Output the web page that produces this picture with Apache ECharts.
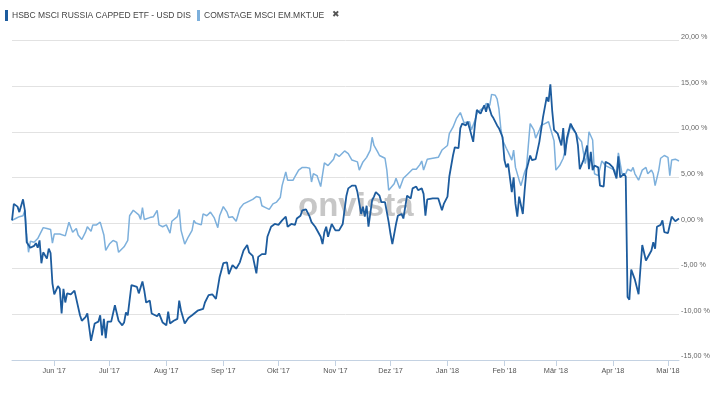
<!DOCTYPE html>
<html>
<head>
<meta charset="utf-8">
<script src="https://cdn.jsdelivr.net/npm/echarts@6/dist/echarts.min.js"></script>
<style>
html,body{margin:0;padding:0;background:#fff;}
#chart{width:720px;height:393px;}
</style>
</head>
<body>
<div id="chart"></div>
<script>
const seriesNames = ['HSBC MSCI RUSSIA CAPPED ETF - USD DIS', 'COMSTAGE MSCI EM.MKT.UE'];
const monthNames = ['Jan','Feb','Mär','Apr','Mai','Jun','Jul','Aug','Sep','Okt','Nov','Dez'];

const russiaDates = [
'2017-05-09','2017-05-10','2017-05-12','2017-05-13','2017-05-15','2017-05-16','2017-05-17','2017-05-19','2017-05-21','2017-05-22',
'2017-05-23','2017-05-24','2017-05-25','2017-05-26','2017-05-28','2017-05-29','2017-05-30','2017-05-31','2017-06-01','2017-06-03',
'2017-06-04','2017-06-05','2017-06-06','2017-06-07','2017-06-08','2017-06-10','2017-06-12','2017-06-13','2017-06-15','2017-06-16',
'2017-06-18','2017-06-19','2017-06-21','2017-06-23','2017-06-25','2017-06-26','2017-06-27','2017-06-28','2017-06-29','2017-06-30',
'2017-07-02','2017-07-04','2017-07-06','2017-07-08','2017-07-09','2017-07-10','2017-07-11','2017-07-13','2017-07-14','2017-07-16',
'2017-07-17','2017-07-19','2017-07-20','2017-07-21','2017-07-23','2017-07-24','2017-07-25','2017-07-27','2017-07-28','2017-07-30',
'2017-08-01','2017-08-02','2017-08-03','2017-08-05','2017-08-07','2017-08-08','2017-08-09','2017-08-11','2017-08-13','2017-08-15',
'2017-08-16','2017-08-18','2017-08-19','2017-08-21','2017-08-22','2017-08-24','2017-08-26','2017-08-28','2017-08-30','2017-09-01',
'2017-09-03','2017-09-04','2017-09-06','2017-09-08','2017-09-10','2017-09-12','2017-09-14','2017-09-15','2017-09-17','2017-09-19',
'2017-09-20','2017-09-22','2017-09-24','2017-09-25','2017-09-27','2017-09-29','2017-10-01','2017-10-03','2017-10-05','2017-10-06',
'2017-10-08','2017-10-10','2017-10-11','2017-10-13','2017-10-14','2017-10-15','2017-10-16','2017-10-18','2017-10-19','2017-10-21',
'2017-10-22','2017-10-24','2017-10-25','2017-10-26','2017-10-27','2017-10-28','2017-10-30','2017-10-31','2017-11-01','2017-11-03',
'2017-11-05','2017-11-07','2017-11-08','2017-11-10','2017-11-12','2017-11-13','2017-11-15','2017-11-16','2017-11-17','2017-11-18',
'2017-11-19','2017-11-21','2017-11-22','2017-11-23','2017-11-25','2017-11-26','2017-11-28','2017-11-30','2017-12-01','2017-12-02',
'2017-12-04','2017-12-05','2017-12-06','2017-12-07','2017-12-08','2017-12-09','2017-12-10','2017-12-12','2017-12-13','2017-12-15',
'2017-12-16','2017-12-18','2017-12-19','2017-12-20','2017-12-21','2017-12-24','2017-12-27','2017-12-29','2017-12-30','2018-01-01',
'2018-01-02','2018-01-04','2018-01-05','2018-01-07','2018-01-08','2018-01-09','2018-01-11','2018-01-12','2018-01-13','2018-01-15',
'2018-01-16','2018-01-17','2018-01-19','2018-01-20','2018-01-21','2018-01-22','2018-01-23','2018-01-25','2018-01-26','2018-01-28',
'2018-01-29','2018-01-31','2018-02-01','2018-02-02','2018-02-03','2018-02-05','2018-02-06','2018-02-07','2018-02-08','2018-02-09',
'2018-02-11','2018-02-12','2018-02-13','2018-02-15','2018-02-16','2018-02-18','2018-02-20','2018-02-22','2018-02-24','2018-02-25',
'2018-02-26','2018-02-27','2018-02-28','2018-03-02','2018-03-04','2018-03-05','2018-03-06','2018-03-07','2018-03-09','2018-03-10',
'2018-03-12','2018-03-13','2018-03-14','2018-03-15','2018-03-16','2018-03-17','2018-03-18','2018-03-19','2018-03-20','2018-03-21',
'2018-03-22','2018-03-24','2018-03-25','2018-03-27','2018-03-28','2018-03-30','2018-04-01','2018-04-02','2018-04-03','2018-04-04',
'2018-04-05','2018-04-07','2018-04-08','2018-04-09','2018-04-10','2018-04-11','2018-04-13','2018-04-14','2018-04-15','2018-04-16',
'2018-04-17','2018-04-19','2018-04-20','2018-04-22','2018-04-23','2018-04-24','2018-04-25','2018-04-27','2018-04-28','2018-04-29',
'2018-05-01','2018-05-03','2018-05-04','2018-05-05','2018-05-07'
];
const russiaValues = [
0.3,2.1,1.8,1.2,2.6,1.4,-2.1,-2.7,-2.5,-2.2,
-2.7,-1.9,-4.4,-3.2,-3.9,-2.8,-3.3,-6.6,-7.8,-6.9,
-7.2,-9.9,-7.2,-8.7,-7.7,-7.8,-7.4,-7.4,-10.1,-10.7,
-10.3,-9.9,-12.9,-11.0,-10.8,-10.1,-12.3,-10.5,-12.6,-10.8,
-10.8,-9.0,-10.7,-11.2,-10.9,-9.8,-10.1,-6.8,-6.6,-7.0,
-7.7,-6.4,-7.4,-8.7,-8.5,-9.9,-9.7,-10.2,-9.9,-10.9,
-11.2,-9.7,-11.0,-10.7,-10.5,-8.5,-9.6,-11.0,-10.4,-10.1,
-9.9,-9.6,-9.8,-9.4,-8.7,-7.9,-7.8,-8.3,-5.9,-4.4,
-4.3,-5.6,-4.6,-5.0,-4.3,-3.0,-2.4,-3.2,-3.6,-5.5,
-3.7,-3.4,-3.4,-1.5,-0.4,-0.1,-0.2,0.3,0.7,-0.4,
-0.1,-0.2,0.5,0.8,1.4,1.2,1.5,0.7,0.1,-0.4,
-0.4,-1.5,-2.3,-1.0,-0.4,-1.5,-0.1,0.1,-0.8,-0.8,
-0.1,3.0,3.8,4.1,4.1,3.4,1.0,1.8,0.7,1.9,
-0.4,2.5,2.9,3.4,3.0,2.3,2.3,0.1,-1.2,-2.3,
-0.1,0.8,0.7,1.0,0.5,0.7,3.0,2.7,3.8,4.0,
3.6,3.8,3.2,0.8,2.6,2.7,2.7,1.4,2.1,2.9,
5.1,7.4,8.3,8.2,10.4,10.9,10.7,11.1,10.4,8.9,
10.9,12.4,12.0,12.1,12.9,12.2,13.1,11.8,11.5,10.7,
10.4,9.4,6.9,6.1,6.5,3.4,5.0,2.1,0.7,2.9,
1.0,3.6,5.8,7.4,6.9,7.0,8.9,11.6,13.8,13.3,
15.2,12.3,10.2,9.8,8.5,10.4,7.4,9.3,10.9,10.5,
9.8,8.5,5.9,6.0,6.9,6.9,8.5,5.9,7.8,5.8,
6.3,6.1,4.1,4.0,6.7,6.5,6.1,6.0,4.9,7.3,
5.0,5.4,5.1,-8.1,-8.4,-5.1,-6.2,-6.3,-7.8,-5.0,
-2.4,-4.1,-4.0,-3.0,-2.1,-2.8,-0.4,-0.2,0.3,-1.0,
-1.1,0.7,0.7,0.2,0.5
];

const emDates = [
'2017-05-09','2017-05-11','2017-05-13','2017-05-15','2017-05-16','2017-05-17','2017-05-18','2017-05-19','2017-05-21','2017-05-23',
'2017-05-24','2017-05-26','2017-05-28','2017-05-30','2017-05-31','2017-06-01','2017-06-04','2017-06-07','2017-06-09','2017-06-11',
'2017-06-13','2017-06-14','2017-06-16','2017-06-18','2017-06-19','2017-06-21','2017-06-22','2017-06-24','2017-06-26','2017-06-28',
'2017-06-29','2017-07-01','2017-07-03','2017-07-05','2017-07-06','2017-07-07','2017-07-09','2017-07-11','2017-07-12','2017-07-14',
'2017-07-17','2017-07-18','2017-07-19','2017-07-20','2017-07-23','2017-07-25','2017-07-27','2017-07-28','2017-07-30','2017-08-01',
'2017-08-03','2017-08-04','2017-08-07','2017-08-08','2017-08-09','2017-08-11','2017-08-13','2017-08-15','2017-08-16','2017-08-17',
'2017-08-20','2017-08-21','2017-08-23','2017-08-25','2017-08-27','2017-08-29','2017-08-30','2017-09-01','2017-09-03','2017-09-04',
'2017-09-06','2017-09-08','2017-09-10','2017-09-12','2017-09-14','2017-09-15','2017-09-17','2017-09-19','2017-09-21','2017-09-22',
'2017-09-24','2017-09-26','2017-09-28','2017-09-30','2017-10-02','2017-10-03','2017-10-05','2017-10-06','2017-10-09','2017-10-10',
'2017-10-12','2017-10-14','2017-10-16','2017-10-18','2017-10-19','2017-10-20','2017-10-22','2017-10-24','2017-10-26','2017-10-28',
'2017-10-31','2017-11-01','2017-11-03','2017-11-06','2017-11-08','2017-11-10','2017-11-13','2017-11-14','2017-11-16','2017-11-18',
'2017-11-20','2017-11-21','2017-11-22','2017-11-24','2017-11-25','2017-11-28','2017-11-29','2017-11-30','2017-12-03','2017-12-04',
'2017-12-06','2017-12-08','2017-12-10','2017-12-11','2017-12-13','2017-12-15','2017-12-17','2017-12-18','2017-12-19','2017-12-21',
'2017-12-24','2017-12-27','2017-12-29','2018-01-01','2018-01-02','2018-01-04','2018-01-06','2018-01-08','2018-01-10','2018-01-11',
'2018-01-13','2018-01-14','2018-01-16','2018-01-17','2018-01-19','2018-01-21','2018-01-22','2018-01-24','2018-01-25','2018-01-27',
'2018-01-28','2018-01-29','2018-01-30','2018-01-31','2018-02-02','2018-02-03','2018-02-05','2018-02-06','2018-02-07','2018-02-09',
'2018-02-10','2018-02-12','2018-02-13','2018-02-15','2018-02-17','2018-02-18','2018-02-20','2018-02-21','2018-02-23','2018-02-25',
'2018-02-26','2018-02-28','2018-03-01','2018-03-03','2018-03-05','2018-03-06','2018-03-09','2018-03-10','2018-03-12','2018-03-13',
'2018-03-14','2018-03-15','2018-03-17','2018-03-18','2018-03-19','2018-03-21','2018-03-22','2018-03-24','2018-03-25','2018-03-26',
'2018-03-28','2018-03-30','2018-04-02','2018-04-03','2018-04-04','2018-04-06','2018-04-08','2018-04-09','2018-04-11','2018-04-12',
'2018-04-13','2018-04-15','2018-04-17','2018-04-19','2018-04-20','2018-04-22','2018-04-23','2018-04-24','2018-04-26','2018-04-27',
'2018-04-29','2018-05-01','2018-05-02','2018-05-03','2018-05-05','2018-05-07'
];
const emValues = [
0.3,0.5,0.7,0.8,1.4,-1.3,-3.2,-2.0,-2.1,-1.7,
-1.5,-0.5,-0.6,-0.7,-2.2,-1.2,-1.2,-1.4,0.1,-1.0,
-0.6,-1.3,-1.8,-1.0,-0.4,-0.9,-0.2,-0.2,0.1,-1.3,
-3.0,-2.3,-1.9,-2.1,-3.2,-3.2,-2.6,-1.9,0.8,1.4,
0.9,0.4,1.7,0.4,0.6,0.7,1.4,-0.2,-0.4,-0.2,
-1.1,0.2,0.7,1.5,-0.8,-2.3,-1.5,-0.8,0.3,0.0,
-0.2,1.0,0.8,1.2,0.6,-0.5,0.8,1.8,1.2,0.6,
0.7,0.2,1.6,2.1,2.3,2.3,2.6,2.9,2.8,1.9,
1.7,1.5,2.1,2.3,2.8,4.1,5.6,4.7,4.7,5.1,
5.8,6.1,6.1,6.0,4.5,5.4,5.2,4.0,6.6,6.3,
7.0,7.6,7.3,7.9,7.6,6.9,6.7,5.8,6.7,7.2,
8.0,9.4,8.5,7.8,7.4,7.1,5.8,3.6,4.3,4.9,
3.8,4.9,5.3,5.4,5.9,5.9,6.4,6.8,5.8,7.0,
7.1,7.2,8.0,8.5,9.8,10.5,11.5,12.1,11.0,10.8,
11.1,10.2,11.3,12.0,12.4,12.7,13.1,12.9,14.1,14.0,
13.6,12.5,10.4,9.1,8.2,7.8,6.9,8.0,6.1,4.7,
4.1,5.6,6.1,10.9,10.2,9.3,10.2,10.7,10.9,11.1,
11.1,9.0,5.8,6.3,7.1,7.2,10.7,10.3,9.8,9.4,
9.6,8.9,6.5,7.6,10.0,9.1,5.4,5.2,5.4,6.8,
6.3,6.1,5.8,5.1,7.7,5.4,5.4,5.9,5.7,6.1,
5.4,4.7,5.8,6.1,5.4,5.8,5.4,4.1,5.8,7.1,
7.4,7.2,5.2,6.9,7.0,6.8
];

const axisStart = '2017-05-09';
const axisEnd = '2018-05-07';
const darkColor = '#1d5c9e';
const lightColor = '#7db0dc';
const axisFont = '"Liberation Sans",Arial,sans-serif';

const chart = echarts.init(document.getElementById('chart'), null, {renderer: 'canvas'});

function pairs(dates, values) {
  return dates.map((d, i) => [d, values[i]]);
}

chart.setOption({
  animation: false,
  backgroundColor: '#ffffff',
  grid: {left: 12, right: 41, top: 40.5, bottom: 33, containLabel: false},
  legend: {
    left: 5, top: 10, padding: 0,
    icon: 'rect', itemWidth: 3, itemHeight: 11, itemGap: 6,
    data: [seriesNames[0], seriesNames[1]],
    textStyle: {fontSize: 8.5, color: '#444', fontFamily: axisFont, padding: [1,0,0,-1]},
    selectedMode: false
  },
  graphic: [
    {type: 'text', left: 332, top: 10, z: 10,
     style: {text: '\u2716', fontSize: 9, fill: '#555', fontFamily: '"DejaVu Sans",sans-serif'}},
    {type: 'text', left: 298, top: 190, z: 0, silent: true,
     style: {text: 'onvista', fontSize: 33, fontWeight: 'bold', fill: 'rgba(180,180,180,0.75)', fontFamily: axisFont}}
  ],
  xAxis: {
    type: 'time',
    min: axisStart, max: axisEnd,
    splitNumber: 12,
    minInterval: 28 * 86400000,
    maxInterval: 31 * 86400000,
    axisLine: {show: true, onZero: false, lineStyle: {color: '#c4d2e2', width: 1}},
    axisTick: {show: true, length: 6, lineStyle: {color: '#c4d2e2'}},
    splitLine: {show: false},
    axisLabel: {
      color: '#555', fontSize: 7.3, fontFamily: axisFont, margin: 7,
      showMinLabel: false, showMaxLabel: false,
      formatter: function (v) {
        const d = new Date(v);
        if (d.getDate() !== 1) return '';
        return monthNames[d.getMonth()] + " '" + String(d.getFullYear()).slice(2);
      }
    }
  },
  yAxis: {
    type: 'value', position: 'right',
    min: -15, max: 20, interval: 5,
    axisLine: {show: false}, axisTick: {show: false},
    splitLine: {show: true, lineStyle: {color: '#e2e2e2', width: 1}},
    axisLabel: {
      color: '#666', fontSize: 7.2, fontFamily: axisFont, margin: 2, align: 'left', verticalAlign: 'bottom',
      formatter: function (v) { return v.toFixed(2).replace('.', ',') + ' %'; }
    }
  },
  series: [
    {name: seriesNames[1], type: 'line', data: pairs(emDates, emValues), showSymbol: false, symbol: 'none',
     lineStyle: {color: lightColor, width: 1.5}, itemStyle: {color: lightColor}, z: 3},
    {name: seriesNames[0], type: 'line', data: pairs(russiaDates, russiaValues), showSymbol: false, symbol: 'none',
     lineStyle: {color: darkColor, width: 1.8}, itemStyle: {color: darkColor}, z: 4}
  ]
});
</script>
</body>
</html>
